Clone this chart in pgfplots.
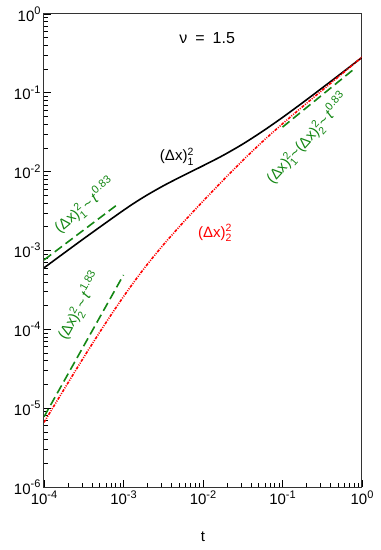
\documentclass[border=0pt]{standalone}
\usepackage{fontspec}
\setmainfont{Liberation Sans}
\usepackage{amsmath}
\usepackage{pgfplots}
\pgfplotsset{compat=1.18}
\usetikzlibrary{calc}
\definecolor{gr}{RGB}{20,135,20}
\definecolor{rd}{RGB}{255,0,0}
\newcommand\ex[1]{\raisebox{0.45em}{\fontsize{11}{11}\selectfont #1}}
\newcommand\sS[2]{$^{\text{#1}}_{\text{#2}}$}
\begin{document}
\begin{tikzpicture}
\begin{axis}[
  scale only axis, width=318pt, height=473pt,
  xmode=log, ymode=log,
  xmin=1e-4, xmax=1, ymin=1e-6, ymax=1,
  xtick={1e-4,1e-3,1e-2,1e-1,1},
  xticklabels={10\ex{-4},10\ex{-3},10\ex{-2},10\ex{-1},10\ex{0}},
  ytick={1e-6,1e-5,1e-4,1e-3,1e-2,1e-1,1},
  yticklabels={10\ex{-6},10\ex{-5},10\ex{-4},10\ex{-3},10\ex{-2},10\ex{-1},10\ex{0}},
  tick align=inside, tick pos=left,
  major tick length=7pt, minor tick length=4pt,
  tick style={black, line width=0.7pt},
  axis line style={line width=1pt, black!80},
  tick label style={font=\fontsize{15}{18}\selectfont},
  xlabel={t}, xlabel style={font=\fontsize{15}{18}\selectfont, yshift=-20pt},
  clip=true,
]
\addplot[black, line width=1.6pt, smooth] coordinates {
(1e-4,6.026e-4) (3.162e-4,1.413e-3) (1e-3,3.236e-3) (1.778e-3,4.732e-3)
(3.162e-3,6.607e-3) (5.623e-3,8.913e-3) (1e-2,1.189e-2) (1.778e-2,1.603e-2)
(3.162e-2,2.239e-2) (5.623e-2,3.254e-2) (0.1,4.870e-2) (0.1778,7.455e-2)
(0.3162,0.1155) (0.5623,0.1799) (1,0.2818)
};
\addplot[rd, line width=1.6pt, smooth, dash pattern=on 3pt off 1.3pt on 1pt off 1.3pt on 1pt off 1.3pt] coordinates {
(1e-4,6.607e-6) (1.778e-4,1.718e-5) (3.162e-4,4.416e-5) (5.623e-4,1.096e-4)
(1e-3,2.600e-4) (1.778e-3,5.754e-4) (3.162e-3,1.175e-3) (5.623e-3,2.265e-3)
(1e-2,4.217e-3) (1.778e-2,7.718e-3) (3.162e-2,1.388e-2) (5.623e-2,2.412e-2)
(0.1,4.050e-2) (0.1778,6.646e-2) (0.3162,0.1078) (0.5623,0.1748) (1,0.2835)
};
\addplot[gr, line width=1.6pt, dash pattern=on 9pt off 4.5pt] coordinates {(1e-4,7.586e-4) (8.318e-4,3.802e-3)};
\addplot[gr, line width=1.6pt, dash pattern=on 9pt off 4.5pt] coordinates {(1e-4,7.762e-6) (1e-3,4.898e-4)};
\addplot[gr, line width=1.6pt, dash pattern=on 9pt off 4.5pt] coordinates {(0.1,3.673e-2) (0.8128,0.2042)};
\node[font=\fontsize{16}{19}\selectfont] at (rel axis cs:0.513,0.949) {ν\hspace{0.5em}=\hspace{0.5em}1.5};
\node[font=\fontsize{15}{18}\selectfont] at (rel axis cs:0.418,0.698) {(Δx)\sS{2}{1}};
\node[font=\fontsize{15}{18}\selectfont, text=rd] at (rel axis cs:0.538,0.537) {(Δx)\sS{2}{2}};
\node[font=\fontsize{15}{18}\selectfont, text=gr, rotate=40] at (rel axis cs:0.128,0.594) {(Δx)\sS{2}{1}\,\textasciitilde\,\textit{t}\ex{0.83}};
\node[font=\fontsize{15}{18}\selectfont, text=gr, rotate=61] at (rel axis cs:0.112,0.382) {(Δx)\sS{2}{2}\,\textasciitilde\,\textit{t}\ex{1.83}};
\node[font=\fontsize{15}{18}\selectfont, text=gr, rotate=48] at (rel axis cs:0.828,0.736) {(Δx)\sS{2}{1}\textasciitilde(Δx)\sS{2}{2}\textasciitilde\,\textit{t}\ex{0.83}};
\end{axis}
\pgfresetboundingbox
\path[use as bounding box] ($(current axis.south west)+(-44pt,-63pt)$) rectangle ($(current axis.north east)+(18pt,14pt)$);
\end{tikzpicture}
\end{document}
